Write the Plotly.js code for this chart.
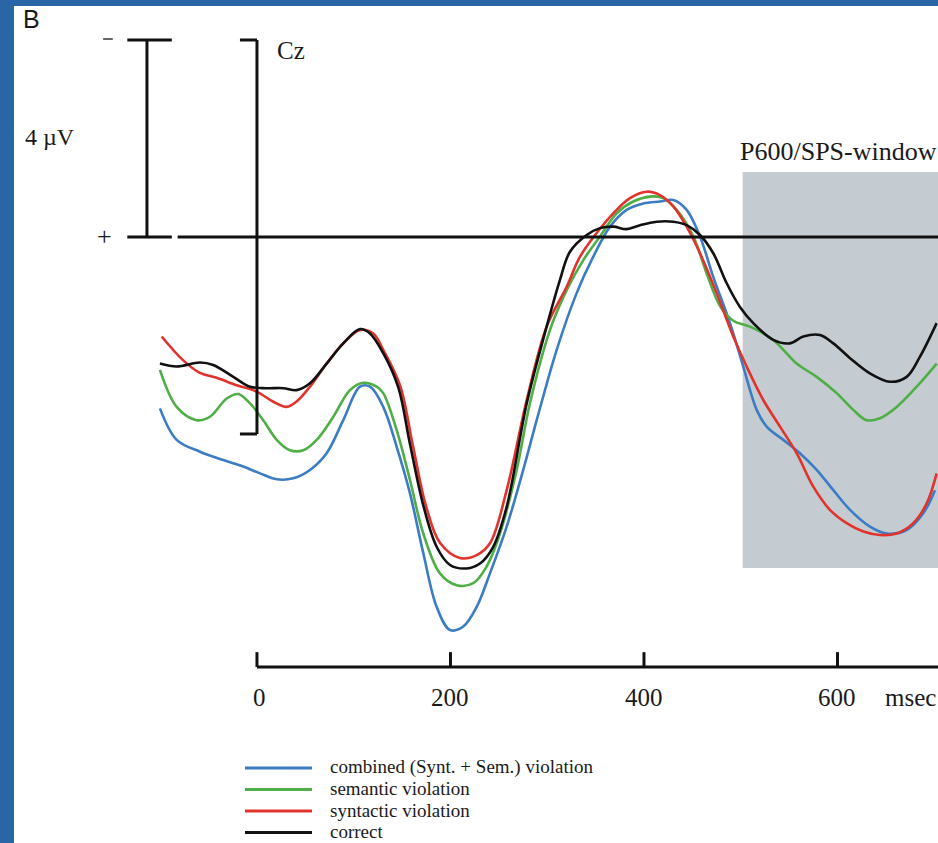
<!DOCTYPE html>
<html>
<head>
<meta charset="utf-8">
<script src="https://cdn.plot.ly/plotly-3.0.1.min.js"></script>
<style>
html,body{margin:0;padding:0;background:#fff;}
#chart{width:938px;height:843px;}
</style>
</head>
<body>
<div id="chart"></div>
<script>
// ---- data (time in ms, amplitude in µV; negative plotted up) ----
const seriesNames = ["combined (Synt. + Sem.) violation", "semantic violation", "syntactic violation", "correct"];
const seriesColors = ["#3b7cc3", "#4fae46", "#e2322c", "#111111"];

const tCombined = [-100.3,-83.0,-58.9,-34.8,-14.2,3.1,20.4,37.5,54.8,72.0,89.2,106.5,116.8,130.5,144.4,158.1,171.9,185.7,199.5,213.2,227.1,240.8,258.1,275.2,289.1,309.8,330.4,347.6,364.9,382.1,399.3,416.5,430.3,444.1,457.9,471.6,488.9,502.6,516.5,526.8,544.0,561.2,578.5,595.7,613.0,633.6,650.9,671.5,688.7,700.8];
const vCombined = [3.48,4.12,4.36,4.53,4.66,4.80,4.92,4.90,4.73,4.39,3.72,3.04,3.04,3.45,4.26,5.20,6.42,7.51,7.98,7.91,7.51,6.83,5.88,4.73,3.72,2.29,1.14,0.40,-0.21,-0.55,-0.68,-0.72,-0.75,-0.55,-0.01,0.81,1.75,2.63,3.51,3.85,4.12,4.39,4.73,5.14,5.54,5.88,6.02,5.95,5.61,5.14];

const tSemantic = [-100.3,-83.0,-62.3,-48.6,-31.3,-19.3,-7.2,6.5,20.4,34.1,47.9,61.7,78.9,96.1,109.9,123.7,130.5,144.4,158.1,171.9,189.1,206.4,223.6,237.4,251.2,268.4,282.2,302.8,320.1,337.3,354.5,371.8,388.9,406.2,420.0,433.8,451.0,464.8,478.6,492.3,509.6,533.6,557.8,578.5,599.2,616.3,630.2,643.9,661.2,681.9,702.5];
const vSemantic = [2.70,3.45,3.72,3.65,3.28,3.19,3.38,3.72,4.12,4.33,4.33,4.12,3.65,3.11,2.96,3.04,3.17,3.92,4.93,6.02,6.83,7.07,7.03,6.69,6.02,4.73,3.37,1.89,1.08,0.47,-0.01,-0.48,-0.72,-0.82,-0.79,-0.55,-0.01,0.74,1.40,1.70,1.82,2.09,2.57,2.84,3.17,3.51,3.72,3.68,3.45,3.04,2.57];

const tSyntactic = [-98.5,-76.5,-58.9,-41.7,-21.0,-0.3,16.5,30.7,41.0,54.8,72.0,89.2,106.5,120.2,130.5,147.8,161.2,174.7,189.1,209.8,227.1,240.8,258.1,278.8,299.4,320.1,333.9,351.1,368.3,385.5,402.8,416.5,430.3,444.1,457.9,475.1,492.3,506.1,523.3,540.6,557.8,575.0,592.2,609.5,626.7,643.9,661.2,678.3,692.2,702.5];
const vSyntactic = [2.02,2.50,2.76,2.86,3.01,3.14,3.34,3.45,3.34,3.04,2.57,2.16,1.89,1.96,2.29,3.01,4.24,5.46,6.21,6.52,6.46,6.22,5.14,3.31,1.82,1.01,0.40,-0.08,-0.48,-0.79,-0.92,-0.85,-0.62,-0.21,0.33,1.14,2.02,2.63,3.31,3.85,4.39,5.07,5.54,5.81,5.98,6.05,6.02,5.81,5.41,4.80];

const tCorrect = [-100.3,-83.0,-58.9,-45.2,-24.5,-7.2,10.0,27.2,41.0,54.8,72.0,89.2,106.5,116.8,130.5,146.0,158.1,171.9,185.7,199.5,216.7,230.5,244.2,258.1,278.8,299.4,313.2,323.5,340.8,354.5,368.3,382.1,395.9,413.1,430.3,444.1,457.9,471.6,485.5,499.2,513.0,533.6,550.9,564.7,581.9,595.7,613.0,633.6,654.3,671.5,685.3,702.5];
const vCorrect = [2.57,2.63,2.55,2.60,2.84,3.04,3.07,3.07,3.11,2.97,2.57,2.16,1.87,1.96,2.36,3.05,4.20,5.45,6.29,6.66,6.73,6.63,6.29,5.48,3.38,1.82,0.87,0.30,-0.04,-0.18,-0.21,-0.16,-0.24,-0.31,-0.31,-0.24,-0.04,0.33,0.94,1.42,1.75,2.09,2.16,2.02,1.99,2.16,2.46,2.77,2.94,2.84,2.43,1.75];

const xTickVals = [0, 200, 400, 600];
const xTickText = ["0", "200", "400", "600"];
const xUnit = "msec";
const scaleLabel = "4 \u00b5V";
const electrode = "Cz";
const windowLabel = "P600/SPS-window";
const windowStart = 500;
const panelLetter = "B";

// ---- geometry ----
const W = 938, H = 843;
const xRange = [-265.6, 703.9];
const yRange = [12.305, -4.812];   // reversed: negative up
const px = x => x / W;            // pixel -> paper
const py = y => 1 - y / H;

const times = [tCombined, tSemantic, tSyntactic, tCorrect];
const vals = [vCombined, vSemantic, vSyntactic, vCorrect];
const traces = [0,1,2,3].map(i => ({
  type: "scatter", mode: "lines", x: times[i], y: vals[i], name: seriesNames[i],
  line: {color: seriesColors[i], width: 2.6, shape: "spline", smoothing: 1},
  hoverinfo: "skip", showlegend: false
}));

const serif = "Liberation Serif, Times New Roman, serif";
const ink = "#111111";
const lw = 3;
const L = (x0, y0, x1, y1, extra) => Object.assign({type: "line", xref: "x", yref: "y", x0, y0, x1, y1, line: {color: ink, width: lw}}, extra || {});

const shapes = [];
// blue textured frame (left and top strips)
shapes.push({type: "rect", xref: "paper", yref: "paper", x0: 0, x1: px(14), y0: 0, y1: 1, fillcolor: "#2a65a6", line: {width: 0}, layer: "below"});
shapes.push({type: "rect", xref: "paper", yref: "paper", x0: 0, x1: 1, y0: py(6), y1: 1, fillcolor: "#2a65a6", line: {width: 0}, layer: "below"});
// P600 window
shapes.push({type: "rect", xref: "x", yref: "y", x0: windowStart + 2, x1: xRange[1] + 5, y0: -1.32, y1: 6.72, fillcolor: "#c4ccd1", line: {width: 0}, layer: "below"});
// scale bar (4 µV)
shapes.push(L(-113.7, -4, -113.7, 0));
shapes.push(L(-134, -4, -88, -4));
shapes.push(L(-134, 0, -88, 0));
// minus sign
shapes.push(L(-159, -4.02, -149, -4.02, {line: {color: "#333", width: 1.5}}));
// baseline
shapes.push(L(-82, 0, xRange[1] + 5, 0));
// Cz axis
shapes.push(L(0, -4, 0, 4));
shapes.push(L(-17.6, -4, 0, -4));
shapes.push(L(-17.6, 4, 0, 4));
// time axis
const axY = 8.73, tickTop = 8.43;
shapes.push(L(0, axY, xRange[1] + 5, axY));
xTickVals.forEach(t => shapes.push(L(t, axY, t, tickTop)));

// legend samples
const legendY = [768, 789.5, 811, 832.5];
seriesNames.forEach((n, i) => {
  shapes.push({type: "line", xref: "paper", yref: "paper", x0: px(245), x1: px(312), y0: py(legendY[i]), y1: py(legendY[i]), line: {color: seriesColors[i], width: 3}});
});

const annotations = [];
const T = (text, x, y, size, xanchor, family) => annotations.push({
  text, xref: "paper", yref: "paper", x: px(x), y: py(y), xanchor: xanchor || "center", yanchor: "middle",
  showarrow: false, borderpad: 0, font: {family: family || serif, size, color: "#1a1a1a"}
});
T(panelLetter, 22, 19, 25, "left", "Liberation Sans, Arial, sans-serif");
T("+", 104, 236, 26);
T(scaleLabel, 24, 137, 24, "left");
T(electrode, 276, 50, 25, "left");
T(windowLabel, 938, 152, 26, "right");
xTickVals.forEach((t, i) => annotations.push({
  text: xTickText[i], xref: "x", yref: "paper", x: t + (i === 0 ? 3 : 0), y: py(697), xanchor: "center", yanchor: "middle",
  showarrow: false, font: {family: serif, size: 25, color: "#1a1a1a"}
}));
T(xUnit, 937, 697, 25, "right");
seriesNames.forEach((n, i) => T(n, 329, legendY[i] - 1, 19, "left"));

const layout = {
  width: W, height: H,
  margin: {l: 0, r: 0, t: 0, b: 0, pad: 0},
  paper_bgcolor: "#ffffff", plot_bgcolor: "rgba(0,0,0,0)",
  showlegend: false,
  xaxis: {range: xRange, visible: false, showgrid: false, zeroline: false, fixedrange: true},
  yaxis: {range: yRange, visible: false, showgrid: false, zeroline: false, fixedrange: true},
  shapes, annotations
};

Plotly.newPlot("chart", traces, layout, {staticPlot: true, displayModeBar: false});
</script>
</body>
</html>
